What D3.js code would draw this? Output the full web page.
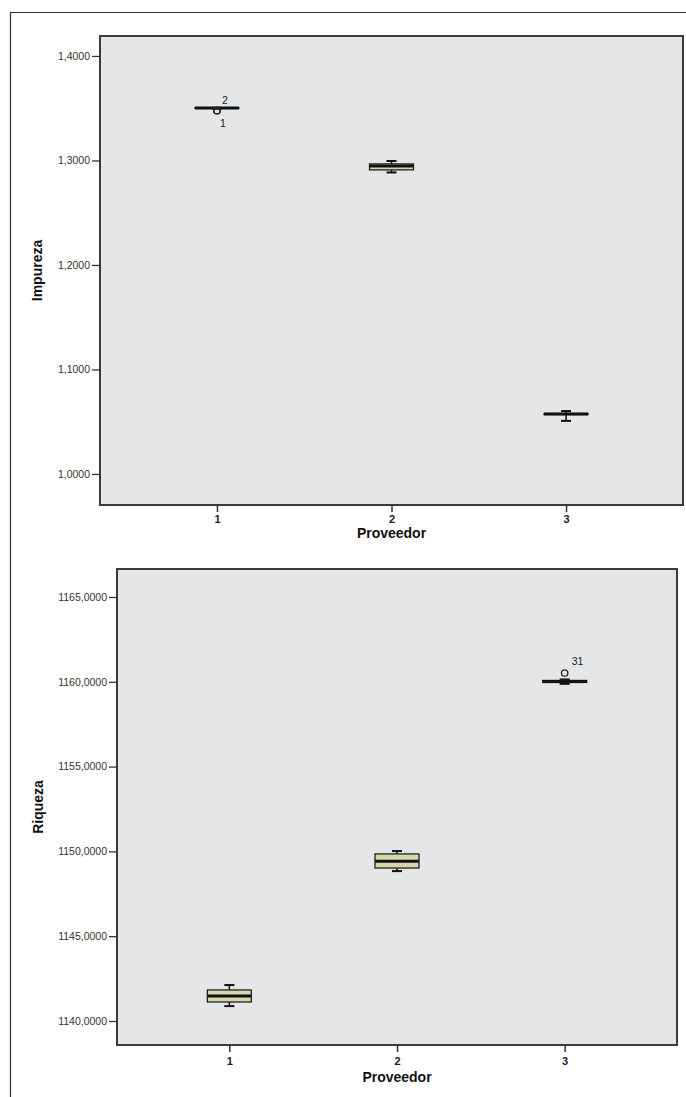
<!DOCTYPE html>
<html><head><meta charset="utf-8">
<script src="https://cdn.jsdelivr.net/npm/d3@7"></script>
<style>
body{margin:0;background:#fff;}
svg{display:block;font-family:"Liberation Sans",Arial,sans-serif;}
</style></head>
<body>
<svg id="c" width="686" height="1097"></svg>
<script>
// ---- Data ----
const categories = ["1", "2", "3"];

// Chart 1: Impureza
const impLow  = [1.3497, 1.2885, 1.0508];
const impQ1   = [1.3499, 1.2910, 1.0569];
const impMed  = [1.3501, 1.2947, 1.0574];
const impQ3   = [1.3503, 1.2967, 1.0578];
const impHigh = [1.3504, 1.2995, 1.0602];
const impOutCat   = ["1", "1"];
const impOutVal   = [1.3476, 1.3476];
const impOutLabel = ["2", "1"];
const impTicks = [1.0, 1.1, 1.2, 1.3, 1.4];

// Chart 2: Riqueza
const riqLow  = [1140.88, 1148.84, 1159.88];
const riqQ1   = [1141.12, 1149.02, 1159.96];
const riqMed  = [1141.47, 1149.42, 1160.02];
const riqQ3   = [1141.83, 1149.85, 1160.08];
const riqHigh = [1142.12, 1150.02, 1160.14];
const riqOutCat   = ["3"];
const riqOutVal   = [1160.52];
const riqOutLabel = ["31"];
const riqTicks = [1140, 1145, 1150, 1155, 1160, 1165];

const fmt4 = v => d3.format(".4f")(v).replace(".", ",");

const svg = d3.select("#c");

// outer frame
svg.append("path")
  .attr("d", "M10.5,1097 L10.5,12.5 L686,12.5")
  .attr("fill", "none").attr("stroke", "#333").attr("stroke-width", 1.2);

function drawChart(cfg) {
  const {left, right, top, bottom, yDomain, ticks, low, q1, med, q3, high,
         outCat, outVal, outLabel, yTitle, yTitleX, labelOffsets, xPad, titleGap} = cfg;
  const g = svg.append("g");
  const x = d3.scalePoint().domain(categories).range([left, right]).padding(0.67);
  const y = d3.scaleLinear().domain(yDomain).range([bottom, top]);

  g.append("rect").attr("x", left).attr("y", top)
    .attr("width", right - left).attr("height", bottom - top)
    .attr("fill", "#e5e6e8").attr("stroke", "#3a3a3a").attr("stroke-width", 2);

  // y axis
  const ya = g.append("g").attr("transform", `translate(${left},0)`)
    .call(d3.axisLeft(y).tickValues(ticks).tickFormat(fmt4).tickSize(8).tickPadding(2));
  ya.select(".domain").remove();
  ya.selectAll("line").attr("stroke", "#333").attr("stroke-width", 1.3);
  ya.selectAll("text").attr("font-size", 10.5).attr("fill", "#333");

  // x axis
  const xa = g.append("g").attr("transform", `translate(0,${bottom})`)
    .call(d3.axisBottom(x).tickSize(7).tickPadding(xPad));
  xa.select(".domain").remove();
  xa.selectAll("line").attr("stroke", "#333").attr("stroke-width", 1.5);
  xa.selectAll("text").attr("font-size", 11).attr("font-weight", "bold").attr("fill", "#222");

  // titles
  g.append("text").attr("x", (left + right) / 2).attr("y", bottom + titleGap)
    .attr("text-anchor", "middle").attr("font-size", 14).attr("font-weight", "bold")
    .attr("fill", "#111").text("Proveedor");
  g.append("text")
    .attr("transform", `translate(${yTitleX},${(top + bottom) / 2}) rotate(-90)`)
    .attr("text-anchor", "middle").attr("font-size", 14).attr("font-weight", "bold")
    .attr("fill", "#111").text(yTitle);

  const bw = 44, cw = 10;
  categories.forEach((c, i) => {
    const cx = x(c);
    // whiskers
    g.append("line").attr("x1", cx).attr("x2", cx).attr("y1", y(high[i])).attr("y2", y(q3[i]))
      .attr("stroke", "#111").attr("stroke-width", 1.5);
    g.append("line").attr("x1", cx).attr("x2", cx).attr("y1", y(q1[i])).attr("y2", y(low[i]))
      .attr("stroke", "#111").attr("stroke-width", 1.5);
    g.append("line").attr("x1", cx - cw / 2).attr("x2", cx + cw / 2).attr("y1", y(high[i])).attr("y2", y(high[i]))
      .attr("stroke", "#111").attr("stroke-width", 2);
    g.append("line").attr("x1", cx - cw / 2).attr("x2", cx + cw / 2).attr("y1", y(low[i])).attr("y2", y(low[i]))
      .attr("stroke", "#111").attr("stroke-width", 2);
    // box
    g.append("rect").attr("x", cx - bw / 2).attr("y", y(q3[i]))
      .attr("width", bw).attr("height", Math.max(0.5, y(q1[i]) - y(q3[i])))
      .attr("fill", "#d6d6a9").attr("stroke", "#222").attr("stroke-width", 1.3);
    // median
    g.append("line").attr("x1", cx - bw / 2).attr("x2", cx + bw / 2).attr("y1", y(med[i])).attr("y2", y(med[i]))
      .attr("stroke", "#111").attr("stroke-width", 3);
  });

  // outliers
  outVal.forEach((v, i) => {
    const cx = x(outCat[i]);
    g.append("circle").attr("cx", cx).attr("cy", y(v)).attr("r", 3.2)
      .attr("fill", "none").attr("stroke", "#222").attr("stroke-width", 1.3);
    const off = labelOffsets[i];
    g.append("text").attr("x", cx + off[0]).attr("y", y(v) + off[1])
      .attr("font-size", 10.5).attr("fill", "#222").text(outLabel[i]);
  });
}

drawChart({
  left: 100, right: 683, top: 36, bottom: 505,
  yDomain: [0.9703, 1.4191], ticks: impTicks,
  low: impLow, q1: impQ1, med: impMed, q3: impQ3, high: impHigh,
  outCat: impOutCat, outVal: impOutVal, outLabel: impOutLabel,
  yTitle: "Impureza", yTitleX: 42,
  labelOffsets: [[5, -7], [3, 16]], xPad: 3, titleGap: 33
});

drawChart({
  left: 117, right: 677, top: 569, bottom: 1045,
  yDomain: [1138.585, 1166.651], ticks: riqTicks,
  low: riqLow, q1: riqQ1, med: riqMed, q3: riqQ3, high: riqHigh,
  outCat: riqOutCat, outVal: riqOutVal, outLabel: riqOutLabel,
  yTitle: "Riqueza", yTitleX: 43,
  labelOffsets: [[7, -8]], xPad: 5, titleGap: 37
});
</script>
</body></html>
